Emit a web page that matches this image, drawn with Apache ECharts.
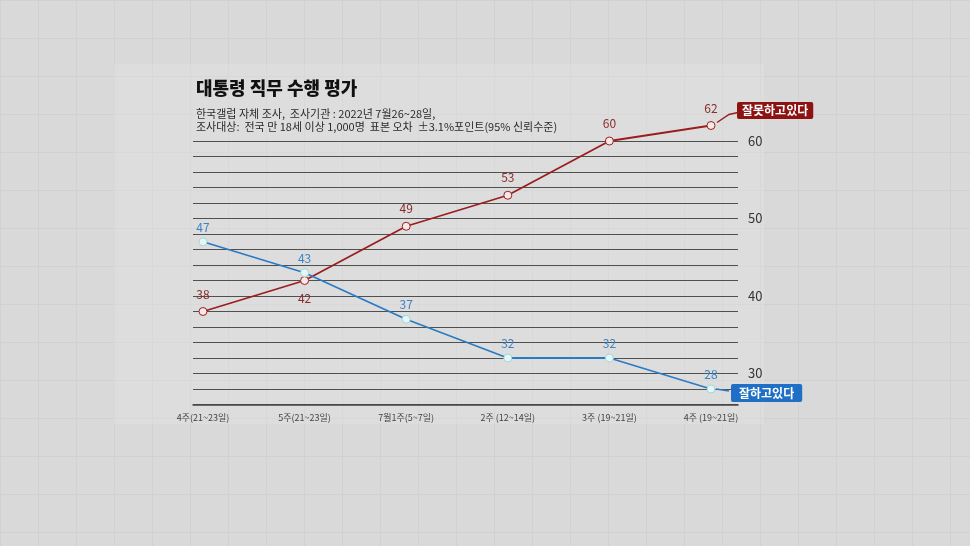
<!DOCTYPE html>
<html><head><meta charset="utf-8">
<script src="https://cdn.jsdelivr.net/npm/echarts@6/dist/echarts.min.js"></script>
<style>
html,body{margin:0;padding:0;width:970px;height:546px;overflow:hidden;
background-color:#d9d9d9;
background-image:linear-gradient(#d1d1d1 1px,transparent 1px),linear-gradient(90deg,#d1d1d1 1px,transparent 1px);
background-size:38px 38px;}
#c{width:970px;height:546px;}
</style></head><body><div id="c"></div>
<script>
const categories = ['4주(21~23일)','5주(21~23일)','7월1주(5~7일)','2주 (12~14일)','3주 (19~21일)','4주 (19~21일)'];
const negative = [38, 42, 49, 53, 60, 62];   // 잘못하고있다
const positive = [47, 43, 37, 32, 32, 28];   // 잘하고있다
const yTicks = [30, 40, 50, 60];
const titleText = '대통령 직무 수행 평가';
const subLines = ['한국갤럽 자체 조사,  조사기관 : 2022년 7월26~28일,', '조사대상:  전국 만 18세 이상 1,000명  표본 오차  ±3.1%포인트(95% 신뢰수준)'];

const FONT = '"Noto Sans CJK KR", "Noto Sans", sans-serif';
const RED = '#9a1e1e', BLUE = '#2b7bc4';
const chart = echarts.init(document.getElementById('c'));

const option = {
  animation: false,
  textStyle: { fontFamily: FONT },
  graphic: [
    { type: 'rect', shape: { x: 114, y: 64, width: 650, height: 360 }, style: { fill: 'rgba(232,232,232,0.3)' }, z: -10 },
    { type: 'text', left: 196, top: 79, style: { text: titleText, font: '900 18px ' + FONT, fill: '#111' } },
    { type: 'text', left: 196, top: 107, style: { text: subLines.join('\n'), font: '11px ' + FONT, fill: '#2a2a2a', lineHeight: 13.5 } }
  ],
  grid: [
    { left: 203, right: 259, top: 125.5, bottom: 141.5 },
    { left: 193, right: 232, top: 141, bottom: 141.5 }
  ],
  xAxis: [
    { gridIndex: 0, type: 'category', data: categories, boundaryGap: false,
      axisLine: { show: false }, axisTick: { show: false },
      axisLabel: { color: '#444', fontSize: 9, margin: 9 } },
    { gridIndex: 1, type: 'value', min: 0, max: 1, show: true,
      axisLine: { show: true, onZero: false, lineStyle: { color: '#444', width: 1.5 } },
      axisTick: { show: false }, axisLabel: { show: false }, splitLine: { show: false } }
  ],
  yAxis: [
    { gridIndex: 0, type: 'value', min: 26, max: 62, show: false },
    { gridIndex: 1, type: 'value', min: 26, max: 60, interval: 2, position: 'right',
      axisLine: { show: false }, axisTick: { show: false },
      axisLabel: { margin: 10, color: '#333', fontSize: 13,
        formatter: v => yTicks.indexOf(v) >= 0 ? String(v) : '' },
      splitLine: { show: true, lineStyle: { color: '#505050', width: 1.2 } } }
  ],
  series: [
    { name: '잘못하고있다', type: 'line', xAxisIndex: 0, yAxisIndex: 0,
      data: negative.map((v, i) => ({ value: v, label: { position: i === 1 ? 'bottom' : 'top' } })),
      symbol: 'circle', symbolSize: 8,
      lineStyle: { color: RED, width: 1.8 },
      itemStyle: { color: '#f9e8e8', borderColor: RED, borderWidth: 1 },
      label: { show: true, color: '#8a2a2a', fontSize: 12, distance: 7 },
      endLabel: { show: true, formatter: '{a}', offset: [18, -15], color: '#fff', fontSize: 12, fontWeight: 'bold',
        backgroundColor: '#8d1212', padding: [3, 5, 2, 5], borderRadius: 2 },
      z: 3 },
    { name: '잘하고있다', type: 'line', xAxisIndex: 0, yAxisIndex: 0,
      data: positive,
      symbol: 'circle', symbolSize: 8,
      lineStyle: { color: BLUE, width: 1.8 },
      itemStyle: { color: '#e4f6f6', borderColor: '#9fd6d6', borderWidth: 1 },
      label: { show: true, position: 'top', color: '#3a84c6', fontSize: 12, distance: 4 },
      endLabel: { show: true, formatter: '{a}', offset: [12, 4], color: '#fff', fontSize: 12, fontWeight: 'bold',
        backgroundColor: '#1f6fc6', padding: [3, 8, 3, 8], borderRadius: 2 },
      z: 3 }
  ]
};
chart.setOption(option);

// connector ticks from the last points to the callout boxes
const last = categories.length - 1;
const pR = chart.convertToPixel({ gridIndex: 0 }, [last, negative[last]]);
const pB = chart.convertToPixel({ gridIndex: 0 }, [last, positive[last]]);
chart.setOption({ graphic: option.graphic.concat([
  { type: 'polyline', shape: { points: [[pR[0] + 6, pR[1] - 3], [pR[0] + 18, pR[1] - 11], [pR[0] + 27, pR[1] - 13]] }, style: { stroke: RED, lineWidth: 1.5, fill: null }, z: 5 },
  { type: 'polyline', shape: { points: [[pB[0] + 5, pB[1]], [pB[0] + 18, pB[1] + 2]] }, style: { stroke: BLUE, lineWidth: 1.5, fill: null }, z: 5 }
]) });
</script></body></html>
